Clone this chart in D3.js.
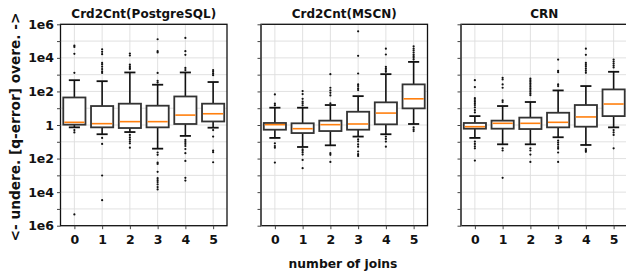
<!DOCTYPE html>
<html><head><meta charset="utf-8">
<script src="https://cdn.jsdelivr.net/npm/d3@7"></script>
<style>body{margin:0;background:#fff}svg{display:block;font-family:"DejaVu Sans",sans-serif}</style>
</head><body><svg id="c" width="626" height="272"></svg>
<script>
// values are log10 of the (estimate / true) q-error ratio
const joins = [0, 1, 2, 3, 4, 5];
const titles = ["Crd2Cnt(PostgreSQL)", "Crd2Cnt(MSCN)", "CRN"];
const yTickExps = [6, 5, 4, 3, 2, 1, 0, -1, -2, -3, -4, -5, -6];
const yTickLabels = {"6": "1e6", "4": "1e4", "2": "1e2", "0": "1", "-2": "1e2", "-4": "1e4", "-6": "1e6"};

const pgLo  = [-0.14, -0.55, -0.42, -1.41, -0.65, -0.16];
const pgQ1  = [0.02, -0.14, -0.18, -0.14, 0.06, 0.21];
const pgMed = [0.16, 0.08, 0.2, 0.2, 0.59, 0.67];
const pgQ3  = [1.64, 1.13, 1.27, 1.15, 1.7, 1.27];
const pgHi  = [2.67, 2.61, 3.13, 2.4, 3.13, 2.56];
const pgOut = [
  [4.73, 4.65, 4.24, 3.11, -0.3, -0.44, -5.33],
  [4.51, 4.36, 4.22, 3.7, 3.6, 3.47, 3.33, 3.2, 3.1, -0.77, -1.13, -3.01, -4.48],
  [4.26, 4.14, 3.6, 3.5, 3.4, 3.33, -0.59, -0.73, -0.85, -0.97, -1.09, -1.35],
  [5.11, 4.4, 4.32, 3.1, 2.63, 2.53, -1.64, -1.78, -2.24, -2.32, -2.79, -3.17, -3.29, -3.4, -3.54, -3.7, -3.84],
  [5.19, 4.4, 4.18, 3.4, 3.27, -0.89, -1.01, -1.13, -1.25, -1.43, -1.68, -2.14, -3.15, -3.31],
  [3.27, 3.17, 3.07, 2.97, -0.3, -0.69, -1.52, -1.62, -2.22]
];

const msLo  = [-0.77, -1.31, -1.21, -0.69, -0.55, 0.06];
const msQ1  = [-0.28, -0.48, -0.36, -0.28, 0.04, 0.99];
const msMed = [0.02, -0.22, 0.02, 0.06, 0.71, 1.56];
const msQ3  = [0.12, 0.1, 0.26, 0.79, 1.35, 2.42];
const msHi  = [1.03, 1.03, 1.19, 1.72, 3.03, 3.76];
const msOut = [
  [1.82, 1.27, 1.17, -1.09, -1.25, -1.35, -2.24],
  [2.02, 1.84, 1.56, 1.39, 1.29, 1.17, -1.45, -1.54, -1.64, -1.76, -2.08, -2.57],
  [3.03, 2.22, 2.06, 1.92, 1.76, 1.29, -1.68, -1.78, -2.2],
  [5.58, 4.12, 3.07, 2.42, 2.32, 2.18, 2.08, -0.85, -0.97, -1.15, -1.29, -1.58, -1.74, -1.84],
  [4.55, 4.2, 3.47, 3.37, 3.27, 3.17, -0.69, -0.83, -0.99, -1.29],
  [4.69, 4.55, 4.44, 4.32, 4.2, 4.1, 4.0, 3.9, -0.14, -0.26, -0.36]
];

const crLo  = [-0.77, -1.15, -1.15, -0.73, -1.19, -0.14];
const crQ1  = [-0.22, -0.22, -0.24, -0.14, -0.1, 0.53];
const crMed = [-0.1, 0.1, 0.1, 0.16, 0.48, 1.25];
const crQ3  = [0.12, 0.26, 0.44, 0.73, 1.19, 2.12];
const crHi  = [0.53, 1.13, 1.37, 2.06, 2.32, 3.17];
const crOut = [
  [2.67, 2.26, 1.6, 1.49, 1.39, 1.29, 1.19, 1.05, 0.89, 0.75, -0.99, -1.13, -1.27, -1.39, -2.12],
  [2.81, 2.71, 2.42, 2.22, 1.47, 1.37, -1.39, -1.52, -3.15],
  [2.77, 2.67, 2.57, 2.48, 2.38, 2.28, 2.18, 2.08, 1.98, 1.88, 1.78, -1.39, -1.52, -1.76, -2.2],
  [3.9, 3.23, 3.15, 2.42, 2.32, -0.93, -1.05, -1.17, -1.31, -1.41, -1.64, -2.2],
  [4.55, 4.18, 3.7, 3.58, 3.47, 3.35, 3.23, 3.11, -1.43, -1.52, -1.6],
  [3.9, 3.78, 3.66, 3.54, 3.43, -0.3, -0.44, -0.59, -1.39]
];

const panels = [
  {title: titles[0], lo: pgLo, q1: pgQ1, med: pgMed, q3: pgQ3, hi: pgHi, out: pgOut},
  {title: titles[1], lo: msLo, q1: msQ1, med: msMed, q3: msQ3, hi: msHi, out: msOut},
  {title: titles[2], lo: crLo, q1: crQ1, med: crMed, q3: crQ3, hi: crHi, out: crOut}
];

const svg = d3.select("#c");
const plotTop = 24.3, plotBottom = 225.7;
const panelLeft = [60.5, 261, 461];
const panelW = 166.5;
const y = d3.scaleLinear().domain([-6, 6]).range([plotBottom, plotTop]);

panels.forEach((p, pi) => {
  const x = d3.scaleLinear().domain([-0.5, 5.5]).range([panelLeft[pi], panelLeft[pi] + panelW]);
  const step = x(1) - x(0);
  const g = svg.append("g");
  // grid
  g.selectAll(".hg").data(yTickExps).join("line")
    .attr("x1", x(-0.5)).attr("x2", x(5.5)).attr("y1", d => y(d)).attr("y2", d => y(d))
    .attr("stroke", "#dedede").attr("stroke-width", 0.9);
  g.selectAll(".vg").data(joins).join("line")
    .attr("x1", d => x(d)).attr("x2", d => x(d)).attr("y1", plotTop).attr("y2", plotBottom)
    .attr("stroke", "#dedede").attr("stroke-width", 0.9);

  // boxes
  joins.forEach((j, i) => {
    const cx = x(j), bw = step * 0.8, cw = bw * 0.5;
    const bg = g.append("g");
    bg.append("line").attr("x1", cx).attr("x2", cx).attr("y1", y(p.q3[i])).attr("y2", y(p.hi[i]))
      .attr("stroke", "#111").attr("stroke-width", 1.6);
    bg.append("line").attr("x1", cx).attr("x2", cx).attr("y1", y(p.q1[i])).attr("y2", y(p.lo[i]))
      .attr("stroke", "#111").attr("stroke-width", 1.6);
    bg.append("line").attr("x1", cx - cw / 2).attr("x2", cx + cw / 2).attr("y1", y(p.hi[i])).attr("y2", y(p.hi[i]))
      .attr("stroke", "#111").attr("stroke-width", 1.8);
    bg.append("line").attr("x1", cx - cw / 2).attr("x2", cx + cw / 2).attr("y1", y(p.lo[i])).attr("y2", y(p.lo[i]))
      .attr("stroke", "#111").attr("stroke-width", 1.8);
    bg.append("rect").attr("x", cx - bw / 2).attr("width", bw)
      .attr("y", y(p.q3[i])).attr("height", y(p.q1[i]) - y(p.q3[i]))
      .attr("fill", "#fff").attr("stroke", "#333").attr("stroke-width", 1.8);
    bg.append("line").attr("x1", cx - bw / 2 + 1).attr("x2", cx + bw / 2 - 1).attr("y1", y(p.med[i])).attr("y2", y(p.med[i]))
      .attr("stroke", "#ff7f0e").attr("stroke-width", 1.6);
    bg.selectAll("circle").data(p.out[i]).join("circle")
      .attr("cx", cx).attr("cy", d => y(d)).attr("r", 1.1).attr("fill", "#111");
  });

  // frame
  g.append("rect").attr("x", x(-0.5)).attr("y", plotTop).attr("width", panelW).attr("height", plotBottom - plotTop)
    .attr("fill", "none").attr("stroke", "#111").attr("stroke-width", 1.3);
  if (pi > 0) {
    g.append("line").attr("x1", x(-0.5)).attr("x2", x(-0.5)).attr("y1", plotTop).attr("y2", plotBottom)
      .attr("stroke", "#555").attr("stroke-width", 2);
  }

  // axes
  const ya = d3.axisLeft(y).tickValues(yTickExps).tickSize(3.5).tickPadding(3)
    .tickFormat(d => pi === 0 ? (yTickLabels[String(d)] || "") : "");
  const yg = g.append("g").attr("transform", `translate(${x(-0.5)},0)`).call(ya);
  yg.select(".domain").remove();
  yg.selectAll("line").attr("stroke", "#444");
  yg.selectAll("text").attr("font-size", 12.5).attr("font-weight", "bold").attr("fill", "#111")
    .attr("font-family", "DejaVu Sans");

  const xa = d3.axisBottom(x).tickValues(joins).tickSize(3.5).tickPadding(6).tickFormat(d3.format("d"));
  const xg = g.append("g").attr("transform", `translate(0,${plotBottom})`).call(xa);
  xg.select(".domain").remove();
  xg.selectAll("line").attr("stroke", "#444");
  xg.selectAll("text").attr("font-size", 12.5).attr("font-weight", "bold").attr("fill", "#111")
    .attr("font-family", "DejaVu Sans");

  g.append("text").attr("x", x(2.5)).attr("y", 18.3).attr("text-anchor", "middle")
    .attr("font-size", 12).attr("font-weight", "bold").attr("fill", "#111").text(p.title);
});

svg.append("text").attr("transform", "translate(19.5,127) rotate(-90)").attr("text-anchor", "middle")
  .attr("font-size", 13.7).attr("font-weight", "bold").attr("fill", "#111").text("<- undere. [q-error] overe. ->");
svg.append("text").attr("x", 343).attr("y", 268).attr("text-anchor", "middle")
  .attr("font-size", 12.3).attr("font-weight", "bold").attr("fill", "#111").text("number of joins");
</script></body></html>
